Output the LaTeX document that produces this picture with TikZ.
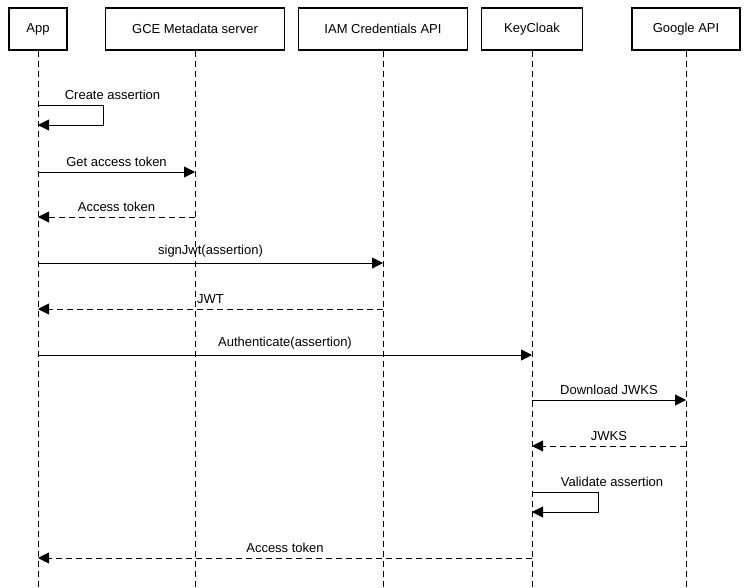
\documentclass[tikz,border=0pt]{standalone}
\usepackage{fontspec}
\setmainfont{Liberation Sans}
\usetikzlibrary{arrows.meta}
\tikzset{
  actor/.style={draw, line width=1.2pt, minimum height=42pt, inner xsep=6pt, font=\fontsize{13}{15}\selectfont},
  life/.style={line width=0.9pt, dash pattern=on 6pt off 4pt},
  msg/.style={line width=0.9pt, -{Triangle[length=11pt,width=11pt]}},
  ret/.style={msg, dash pattern=on 6pt off 4pt},
  lbl/.style={font=\fontsize{13}{15}\selectfont, above, inner sep=5pt}
}
\begin{document}
\begin{tikzpicture}[x=1pt,y=-1pt]
\useasboundingbox (0,0) rectangle (749,587);
\node[actor, minimum width=58pt] (app) at (38,29) {App};
\node[actor, minimum width=179pt] (gce) at (195,29) {GCE Metadata server};
\node[actor, minimum width=169pt] (iam) at (383,29) {IAM Credentials API};
\node[actor, minimum width=101pt] (kc) at (532,29) {KeyCloak};
\node[actor, minimum width=108pt] (gapi) at (686,29) {Google API};
% lifelines
\foreach \n/\x in {app/38,gce/195,iam/383,kc/532,gapi/686} {
  \coordinate (\n-end) at (\x,587);
  \draw[life] (\n.south) -- (\n-end);
}
% messages
\coordinate (a1) at (38,105); \coordinate (a2) at (38,125);
\draw[msg] (a1) -- (103,105) node[lbl, pos=0.5, xshift=42pt] {Create assertion} -- (103,125) -- (a2);
\coordinate (a3) at (38,172); \coordinate (g3) at (195,172);
\draw[msg] (a3) -- node[lbl] {Get access token} (g3);
\coordinate (g4) at (195,217); \coordinate (a4) at (38,217);
\draw[ret] (g4) -- node[lbl] {Access token} (a4);
\coordinate (a5) at (38,263); \coordinate (i5) at (383,263);
\draw[msg] (a5) -- node[lbl] {signJwt(assertion)} (i5);
\coordinate (i6) at (383,309); \coordinate (a6) at (38,309);
\draw[ret] (i6) -- node[lbl] {JWT} (a6);
\coordinate (a7) at (38,355); \coordinate (k7) at (532,355);
\draw[msg] (a7) -- node[lbl] {Authenticate(assertion)} (k7);
\coordinate (k8) at (532,400); \coordinate (p8) at (686,400);
\draw[msg] (k8) -- node[lbl] {Download JWKS} (p8);
\coordinate (p9) at (686,446); \coordinate (k9) at (532,446);
\draw[ret] (p9) -- node[lbl] {JWKS} (k9);
\coordinate (k10) at (532,492); \coordinate (k11) at (532,512);
\draw[msg] (k10) -- (598,492) node[lbl, pos=0.5, xshift=47pt] {Validate assertion} -- (598,512) -- (k11);
\coordinate (k12) at (532,558); \coordinate (a12) at (38,558);
\draw[ret] (k12) -- node[lbl] {Access token} (a12);
\end{tikzpicture}
\end{document}
